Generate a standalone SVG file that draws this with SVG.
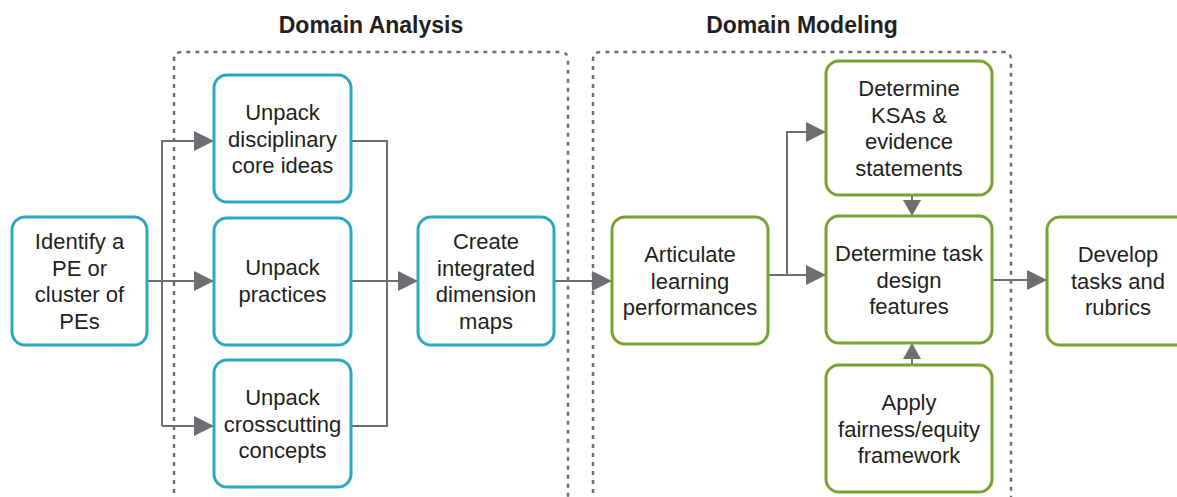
<svg xmlns="http://www.w3.org/2000/svg" width="1177" height="497" viewBox="0 0 1177 497">
<style>
text{font-family:"Liberation Sans",Arial,sans-serif;fill:#231f20;}
.t{font-size:22px;text-anchor:middle;}
.h{font-size:23px;font-weight:bold;text-anchor:middle;}
.b{fill:#fff;stroke:#2aa8c2;stroke-width:3;}
.g{fill:#fff;stroke:#78a22f;stroke-width:3;}
.c{fill:none;stroke:#6d6e71;stroke-width:2;}
.d{fill:none;stroke:#6d6e71;stroke-width:2.5;stroke-dasharray:4 5;}
</style>
<defs>
<marker id="a" viewBox="0 0 20 20" refX="20" refY="10" markerWidth="20" markerHeight="20" markerUnits="userSpaceOnUse" orient="auto"><path d="M0,0 L20,10 L0,20 z" fill="#6d6e71"/></marker>
<marker id="s" viewBox="0 0 16 18" refX="16" refY="9" markerWidth="16" markerHeight="18" markerUnits="userSpaceOnUse" orient="auto"><path d="M0,0 L16,9 L0,18 z" fill="#6d6e71"/></marker>
</defs>
<rect width="1177" height="497" fill="#fff"/>
<g id="regions">
<path class="d" d="M174,520 V60 Q174,52 182,52 H560 Q568,52 568,60 V520"/>
<path class="d" d="M593,520 V60 Q593,52 601,52 H1003 Q1011,52 1011,60 V520"/>
<text class="h" x="371" y="33">Domain Analysis</text>
<text class="h" x="802" y="33">Domain Modeling</text>
</g>
<g id="connectors">
<path class="c" d="M147,281 H214" marker-end="url(#a)"/>
<path class="c" d="M162,426 V141 H214" marker-end="url(#a)"/>
<path class="c" d="M162,426 H214" marker-end="url(#a)"/>
<path class="c" d="M351,141 H387 V426 H351"/>
<path class="c" d="M351,281 H418" marker-end="url(#a)"/>
<path class="c" d="M554,281 H612" marker-end="url(#a)"/>
<path class="c" d="M768,275 H826" marker-end="url(#a)"/>
<path class="c" d="M787,275 V132 H826" marker-end="url(#a)"/>
<path class="c" d="M912,195 V216" marker-end="url(#s)"/>
<path class="c" d="M912,365 V343" marker-end="url(#s)"/>
<path class="c" d="M992,280 H1047" marker-end="url(#a)"/>
</g>
<g id="identify">
<rect class="b" x="12" y="217" width="135" height="128" rx="13"/>
<text class="t" x="79.5" y="249">Identify a<tspan x="79.5" dy="26.5">PE or</tspan><tspan x="79.5" dy="26.5">cluster of</tspan><tspan x="79.5" dy="26.5">PEs</tspan></text>
</g>
<g id="disciplinary">
<rect class="b" x="214" y="75" width="137" height="127" rx="13"/>
<text class="t" x="282.5" y="120">Unpack<tspan x="282.5" dy="26.5">disciplinary</tspan><tspan x="282.5" dy="26.5">core ideas</tspan></text>
</g>
<g id="practices">
<rect class="b" x="214" y="218" width="137" height="127" rx="13"/>
<text class="t" x="282.5" y="275">Unpack<tspan x="282.5" dy="26.5">practices</tspan></text>
</g>
<g id="crosscutting">
<rect class="b" x="214" y="360" width="137" height="127" rx="13"/>
<text class="t" x="282.5" y="405">Unpack<tspan x="282.5" dy="26.5">crosscutting</tspan><tspan x="282.5" dy="26.5">concepts</tspan></text>
</g>
<g id="create">
<rect class="b" x="418" y="217" width="136" height="128" rx="13"/>
<text class="t" x="486" y="249">Create<tspan x="486" dy="26.5">integrated</tspan><tspan x="486" dy="26.5">dimension</tspan><tspan x="486" dy="26.5">maps</tspan></text>
</g>
<g id="articulate">
<rect class="g" x="612" y="217" width="156" height="127" rx="13"/>
<text class="t" x="690" y="262">Articulate<tspan x="690" dy="26.5">learning</tspan><tspan x="690" dy="26.5">performances</tspan></text>
</g>
<g id="ksas">
<rect class="g" x="826" y="61" width="166" height="134" rx="13"/>
<text class="t" x="909" y="96">Determine<tspan x="909" dy="26.5">KSAs &amp;</tspan><tspan x="909" dy="26.5">evidence</tspan><tspan x="909" dy="26.5">statements</tspan></text>
</g>
<g id="task">
<rect class="g" x="826" y="216" width="166" height="127" rx="13"/>
<text class="t" x="909" y="261">Determine task<tspan x="909" dy="26.5">design</tspan><tspan x="909" dy="26.5">features</tspan></text>
</g>
<g id="apply">
<rect class="g" x="826" y="365" width="166" height="127" rx="13"/>
<text class="t" x="909" y="410">Apply<tspan x="909" dy="26.5">fairness/equity</tspan><tspan x="909" dy="26.5">framework</tspan></text>
</g>
<g id="develop">
<rect class="g" x="1047" y="217" width="143" height="128" rx="13"/>
<text class="t" x="1118" y="262">Develop<tspan x="1118" dy="26.5">tasks and</tspan><tspan x="1118" dy="26.5">rubrics</tspan></text>
</g>
</svg>
